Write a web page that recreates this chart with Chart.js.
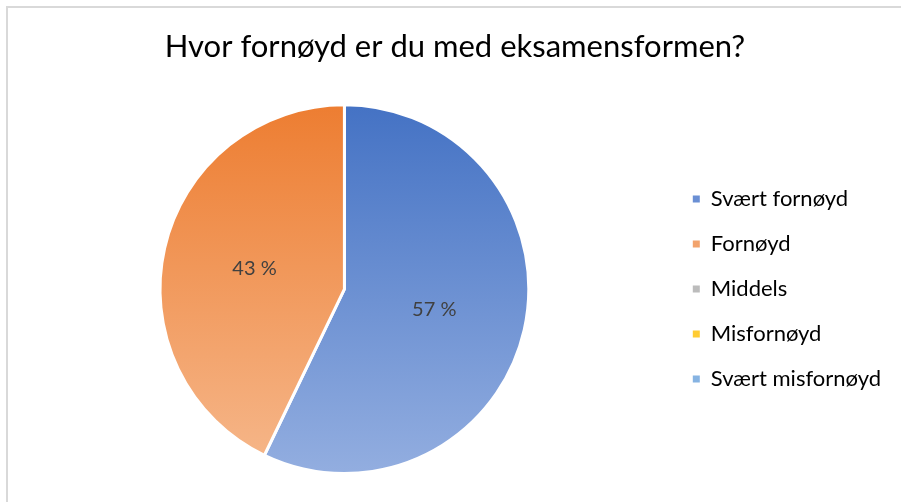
<!DOCTYPE html>
<html>
<head>
<meta charset="utf-8">
<script src="https://cdn.jsdelivr.net/npm/chart.js@4.4.0/dist/chart.umd.min.js"></script>
<style>
  body { margin: 0; background: #fff; }
  #wrap { position: relative; width: 901px; height: 502px; }
  #frame { position: absolute; left: 6px; top: 6px; right: -4px; bottom: -4px; border-left: 2px solid #d9d9d9; border-top: 2px solid #d9d9d9; }
  canvas { position: absolute; left: 0; top: 0; }
</style>
</head>
<body>
<div id="wrap">
  <div id="frame"></div>
  <canvas id="myChart" width="901" height="502"></canvas>
</div>
<script>
var titleText = 'Hvor fornøyd er du med eksamensformen?';
var labels = ['Svært fornøyd', 'Fornøyd', 'Middels', 'Misfornøyd', 'Svært misfornøyd'];
var values = [4, 3, 0, 0, 0];
// top / bottom colour of each slice's gradient
var topColors = ['#4472c4', '#ed7d31', '#a5a5a5', '#ffc000', '#5b9bd5'];
var bottomColors = ['#93aee0', '#f6b88c', '#d0d0d0', '#ffd966', '#a4c6e8'];
var legendColors = ['#6a8fd4', '#f2a36c', '#bcbcbc', '#ffcc33', '#86b3e2'];

var total = values.reduce(function(a, b) { return a + b; }, 0);

var sliceLabels = {
  id: 'sliceLabels',
  afterDatasetsDraw: function(chart) {
    var ctx = chart.ctx;
    var meta = chart.getDatasetMeta(0);
    ctx.save();
    ctx.font = '20px Lato';
    ctx.fillStyle = '#404040';
    ctx.textAlign = 'center';
    ctx.textBaseline = 'middle';
    meta.data.forEach(function(arc, i) {
      if (!values[i]) return;
      var p = arc.getCenterPoint();
      var pct = Math.round(values[i] / total * 100);
      ctx.fillText(pct + ' %', p.x, p.y);
    });
    ctx.restore();
  }
};

function sliceColor(c) {
  var chart = c.chart;
  var area = chart.chartArea;
  var i = c.dataIndex;
  if (!area) return topColors[i];
  var g = chart.ctx.createLinearGradient(0, area.top, 0, area.bottom);
  g.addColorStop(0, topColors[i]);
  g.addColorStop(1, bottomColors[i]);
  return g;
}

new Chart(document.getElementById('myChart').getContext('2d'), {
  type: 'pie',
  data: {
    labels: labels,
    datasets: [{
      data: values,
      backgroundColor: sliceColor,
      borderColor: '#ffffff',
      borderWidth: 3
    }]
  },
  options: {
    responsive: false,
    animation: false,
    layout: { padding: { left: 19, right: 10, top: 0, bottom: 27 } },
    plugins: {
      title: {
        display: true,
        text: titleText,
        color: '#000000',
        font: { family: 'Lato', size: 31, weight: 'normal' },
        padding: { top: 28, bottom: 38 }
      },
      legend: {
        position: 'right',
        fullSize: false,
        labels: {
          color: '#595959',
          font: { family: 'Lato', size: 22 },
          boxWidth: 7,
          boxHeight: 7,
          padding: 23,
          generateLabels: function(chart) {
            return labels.map(function(l, i) {
              return { text: l, fillStyle: legendColors[i], strokeStyle: legendColors[i], lineWidth: 0, hidden: false, index: i };
            });
          }
        }
      },
      tooltip: { enabled: false }
    }
  },
  plugins: [sliceLabels]
});
</script>
</body>
</html>
